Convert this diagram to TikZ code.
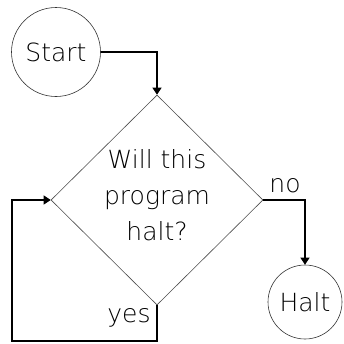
\documentclass[tikz,border=0pt]{standalone}
\usepackage{fontspec}
\setmainfont{DejaVu Sans ExtraLight}
\usetikzlibrary{shapes.geometric,arrows.meta}
\begin{document}
\begin{tikzpicture}[x=1pt,y=-1pt,
  every node/.style={font=\fontsize{25}{36}\selectfont},
  termcircle/.style={circle,draw=black!80,line width=0.6pt,inner sep=0pt},
  decision/.style={diamond,draw=black!70,line width=0.6pt,inner sep=0pt,minimum width=212pt,minimum height=210pt},
  flow/.style={draw=black,line width=1.2pt,-{Triangle[length=7pt,width=9pt]}},
  lbl/.style={inner sep=0pt,anchor=base}]
\useasboundingbox (0,0) rectangle (344,343);
\node[termcircle,minimum size=89pt] (start) at (56,52) {Start};
\node[decision] (dec) at (157,200) {};
\node[align=center,inner sep=0pt] (q) at ([yshift=5pt]dec.center) {Will this\\program\\halt?};
\node[termcircle,minimum size=74pt] (halt) at (305,302) {Halt};
\coordinate (c1) at (157,341);
\coordinate (c2) at (12,341);
\coordinate (c3) at (12,200);
\draw[flow] (start.east) -| (dec.north);
\draw[flow] (dec.east) -| (halt.north);
\draw[flow] (dec.south) -- (c1) -- (c2) -- (c3) -- (dec.west);
\node[lbl] (no) at (285,192) {no};
\node[lbl] (yes) at (129,322) {yes};
\end{tikzpicture}
\end{document}
